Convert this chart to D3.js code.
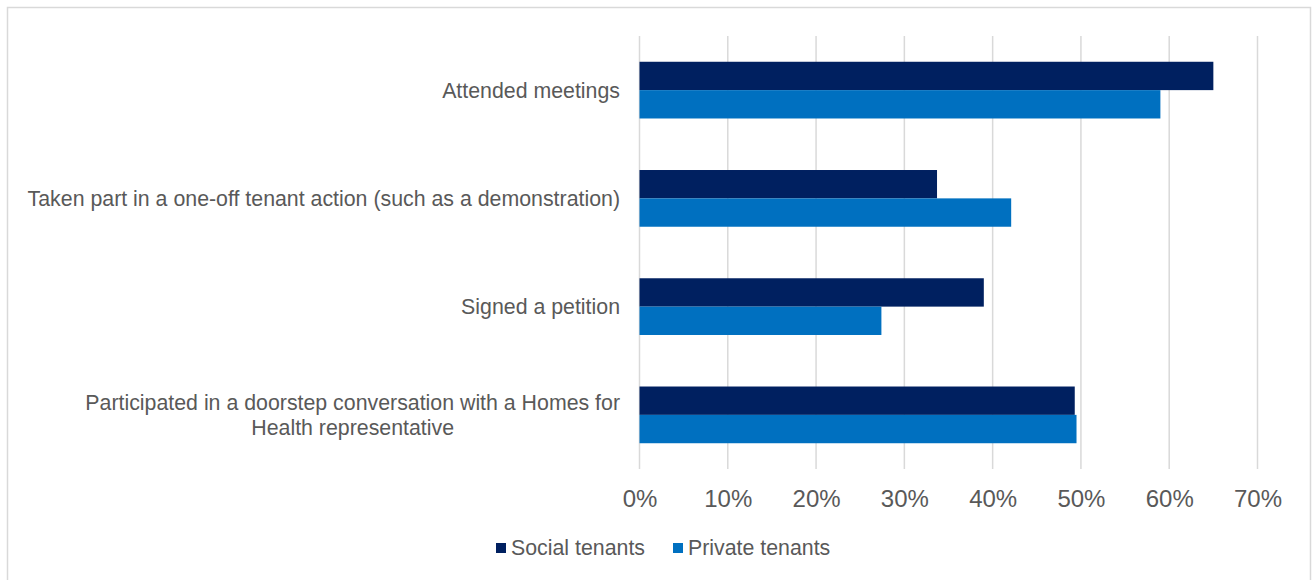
<!DOCTYPE html>
<html>
<head>
<meta charset="utf-8">
<script src="https://cdn.jsdelivr.net/npm/d3@7"></script>
<style>
  html, body { margin: 0; padding: 0; background: #ffffff; }
  svg { display: block; font-family: "Liberation Sans", Arial, sans-serif; }
</style>
</head>
<body>
<svg id="chart" width="1312" height="580"></svg>
<script>
// Survey activities (top to bottom)
const categories = [
  "Attended meetings",
  "Taken part in a one-off tenant action (such as a demonstration)",
  "Signed a petition",
  "Participated in a doorstep conversation with a Homes for Health representative"
];
// Share of respondents in each group
const seriesNames = ["Social tenants", "Private tenants"];
const socialTenants = [0.65, 0.337, 0.39, 0.493];
const privateTenants = [0.59, 0.421, 0.274, 0.495];
const xTicks = [0, 0.1, 0.2, 0.3, 0.4, 0.5, 0.6, 0.7];

const colors = ["#002060", "#0070C0"];
const textColor = "#595959";
const gridColor = "#d9d9d9";

const svg = d3.select("#chart");

// Outer chart frame
svg.append("rect")
  .attr("x", 7.5).attr("y", 7.5)
  .attr("width", 1303).attr("height", 590)
  .attr("fill", "none")
  .attr("stroke", gridColor)
  .attr("stroke-width", 1.5);

const plot = { left: 639.5, right: 1257.5, top: 36, bottom: 469 };

const x = d3.scaleLinear().domain([0, 0.7]).range([plot.left, plot.right]);
const y = d3.scaleBand().domain(categories)
  .range([plot.top, plot.bottom])
  .paddingInner(0.476).paddingOuter(0.238);
const ySeries = d3.scaleBand().domain(seriesNames).range([0, y.bandwidth()]);

// Vertical gridlines
svg.append("g")
  .selectAll("line")
  .data(xTicks)
  .join("line")
  .attr("x1", d => x(d)).attr("x2", d => x(d))
  .attr("y1", plot.top).attr("y2", plot.bottom)
  .attr("stroke", gridColor)
  .attr("stroke-width", 1.5);

// Bars
const rows = categories.map((c, i) => ({
  category: c,
  values: [
    { series: seriesNames[0], value: socialTenants[i], color: colors[0] },
    { series: seriesNames[1], value: privateTenants[i], color: colors[1] }
  ]
}));

svg.append("g")
  .selectAll("g")
  .data(rows)
  .join("g")
  .attr("transform", d => `translate(0,${y(d.category)})`)
  .selectAll("rect")
  .data(d => d.values)
  .join("rect")
  .attr("x", x(0))
  .attr("y", d => ySeries(d.series))
  .attr("width", d => x(d.value) - x(0))
  .attr("height", ySeries.bandwidth())
  .attr("fill", d => d.color);

// X axis tick labels
const xAxis = d3.axisBottom(x)
  .tickValues(xTicks)
  .tickFormat(d3.format(".0%"))
  .tickSize(0)
  .tickPadding(0);

const gx = svg.append("g")
  .attr("transform", `translate(0,${plot.bottom})`)
  .call(xAxis);
gx.select(".domain").remove();
gx.selectAll("text")
  .attr("dy", null)
  .attr("y", 37.5)
  .attr("fill", textColor)
  .attr("font-size", "24px")
  .attr("font-family", "'Liberation Sans', Arial, sans-serif");

// Category labels, wrapped when wider than the label column
const labelRight = 620;
const maxLabelWidth = 599;
const labelSize = 21.33;
const lineHeight = 24.5;

const labels = svg.append("g")
  .attr("font-size", labelSize + "px")
  .attr("fill", textColor);

categories.forEach(cat => {
  const cy = y(cat) + y.bandwidth() / 2;
  const probe = labels.append("text");
  const words = cat.split(" ");
  const lines = [];
  let line = [];
  words.forEach(w => {
    const trial = line.concat(w).join(" ");
    probe.text(trial);
    if (probe.node().getComputedTextLength() > maxLabelWidth && line.length) {
      lines.push(line.join(" "));
      line = [w];
    } else {
      line.push(w);
    }
  });
  lines.push(line.join(" "));
  // block width for centring multi-line labels
  const widths = lines.map(l => { probe.text(l); return probe.node().getComputedTextLength(); });
  probe.remove();
  const blockW = d3.max(widths);
  const multi = lines.length > 1;
  const t = labels.append("text")
    .attr("text-anchor", multi ? "middle" : "end");
  const firstY = cy - (lines.length - 1) * lineHeight / 2;
  lines.forEach((l, i) => {
    t.append("tspan")
      .attr("x", multi ? labelRight - blockW / 2 : labelRight)
      .attr("y", firstY + i * lineHeight)
      .attr("dy", "0.35em")
      .text(l);
  });
});

// Legend
const legend = svg.append("g")
  .attr("font-size", labelSize + "px")
  .attr("fill", textColor);
const legendItems = [
  { name: seriesNames[0], color: colors[0], x: 496 },
  { name: seriesNames[1], color: colors[1], x: 673 }
];
const legendY = 548;
legendItems.forEach(item => {
  legend.append("rect")
    .attr("x", item.x).attr("y", legendY - 5)
    .attr("width", 10).attr("height", 10)
    .attr("fill", item.color);
  legend.append("text")
    .attr("x", item.x + 15)
    .attr("y", legendY)
    .attr("dy", "0.35em")
    .text(item.name);
});
</script>
</body>
</html>
